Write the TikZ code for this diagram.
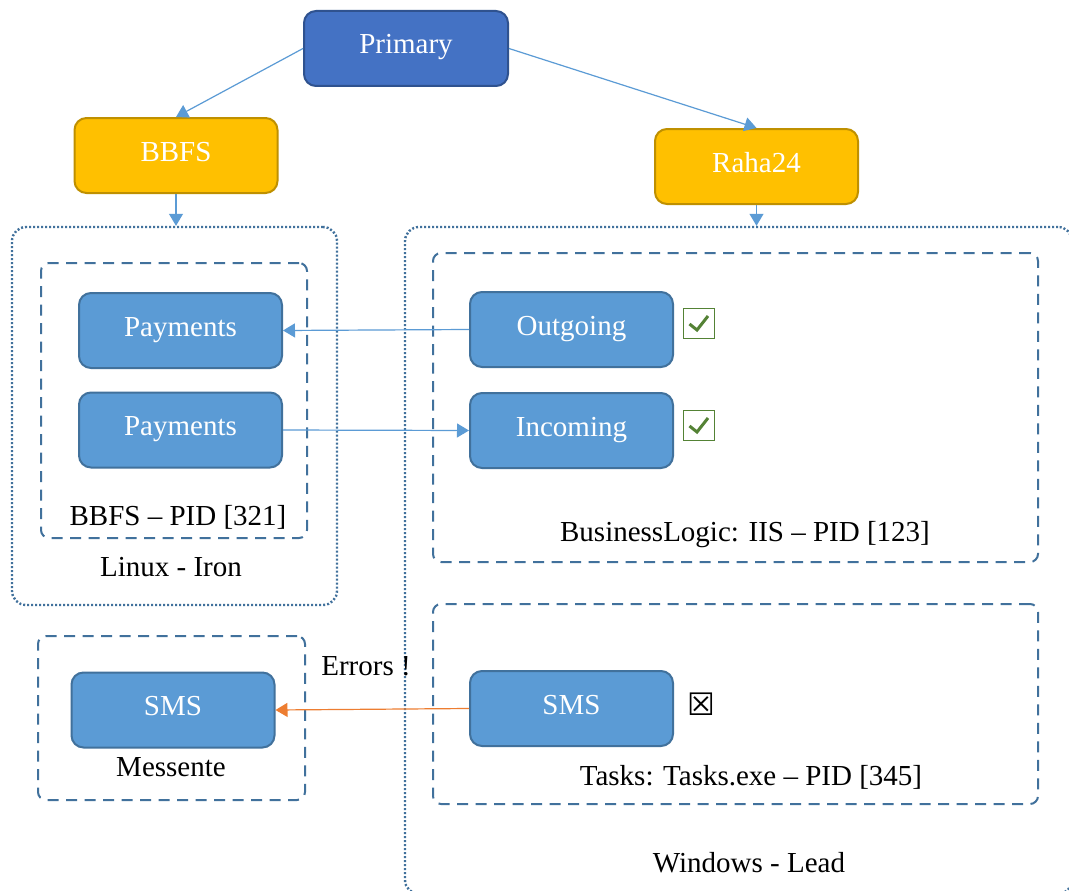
\documentclass[tikz,border=0pt]{standalone}
\usepackage{fontspec}
\setmainfont{Liberation Serif}
\newfontfamily\symfont{DejaVu Sans}
\usetikzlibrary{arrows.meta}

\definecolor{boxblue}{HTML}{5B9BD5}
\definecolor{boxedge}{HTML}{41719C}
\definecolor{primfill}{HTML}{4472C4}
\definecolor{primedge}{HTML}{2F528F}
\definecolor{gold}{HTML}{FFC000}
\definecolor{goldedge}{HTML}{BF9000}
\definecolor{linkblue}{HTML}{5B9BD5}
\definecolor{errorange}{HTML}{ED7D31}
\definecolor{okgreen}{HTML}{548235}

\begin{document}
\begin{tikzpicture}[x=1pt,y=-1pt,
  font=\fontsize{29}{34}\selectfont,
  svc/.style={draw=boxedge, fill=boxblue, line width=2pt, rounded corners=12pt,
    text=white, minimum width=203pt, minimum height=75pt, inner sep=0pt,
    text height=19pt, text depth=8pt},
  primbox/.style={svc, draw=primedge, fill=primfill, minimum width=204pt},
  hostbox/.style={svc, draw=goldedge, fill=gold, minimum width=203pt},
  procbox/.style={draw=boxedge, line width=2pt, dash pattern=on 11pt off 7.5pt,
    rounded corners=8pt, inner sep=0pt},
  machinebox/.style={draw=boxedge, line width=2.4pt, dash pattern=on 2pt off 2pt,
    rounded corners=14pt, inner sep=0pt},
  link/.style={draw=linkblue, line width=1.2pt, -{Triangle[length=12pt,width=14pt]}},
  errlink/.style={link, draw=errorange},
  chk/.style={draw=okgreen, line width=1.8pt, minimum width=31pt, minimum height=30pt,
    inner sep=0pt},
  tick/.style={draw=okgreen, line width=3pt},
  caption/.style={text=black, inner sep=0pt, anchor=base}
]
\useasboundingbox (0,0) rectangle (1069,891);
\fill[white] (0,0) rectangle (1069,891);
\clip (0,0) rectangle (1069,891);

% top level
\node[primbox] (primary) at (406,48.5) {Primary};
\node[hostbox] (bbfs) at (176,155.5) {BBFS};
\node[hostbox] (raha) at (756.5,166.5) {Raha24};

% machines
\node[machinebox, minimum width=325pt, minimum height=378pt] (linux) at (174.5,416) {};
\node[machinebox, minimum width=667pt, minimum height=667pt] (windows) at (738.5,560.5) {};

% processes
\node[procbox, minimum width=266pt, minimum height=275pt] (bbfsproc) at (174,400.5) {};
\node[procbox, minimum width=605pt, minimum height=309pt] (bizproc) at (735.5,407.5) {};
\node[procbox, minimum width=605pt, minimum height=200pt] (taskproc) at (735.5,704) {};
\node[procbox, minimum width=267pt, minimum height=164pt] (messproc) at (171.5,718) {};

% services
\node[svc] (pay1) at (180.5,330.5) {Payments};
\node[svc] (pay2) at (180.5,430) {Payments};
\node[svc] (outgoing) at (571.5,329.5) {Outgoing};
\node[svc] (incoming) at (571.5,430.5) {Incoming};
\node[svc] (smsright) at (571.5,708.5) {SMS};
\node[svc] (smsleft) at (173,710) {SMS};

% status marks
\node[chk] (okout) at (699,323.5) {};
\draw[tick] ([shift={(-9.5,0.5)}]okout.center) -- ([shift={(-2,6.5)}]okout.center)
  -- ([shift={(9,-7.5)}]okout.center);
\node[chk] (okin) at (699,425.5) {};
\draw[tick] ([shift={(-9.5,0.5)}]okin.center) -- ([shift={(-2,6.5)}]okin.center)
  -- ([shift={(9,-7.5)}]okin.center);
\node[text=black, inner sep=0pt, font=\symfont\fontsize{31}{31}\selectfont] (fail) at (701,704) {☒};

% captions
\node[caption] (bbfscap) at (178,525) {BBFS – PID [321]};
\node[caption] (linuxcap) at (171,576) {Linux - Iron};
\node[caption] (bizcap) at (745,541.5) {BusinessLogic: IIS – PID [123]};
\node[caption] (taskcap) at (751,785) {Tasks: Tasks.exe – PID [345]};
\node[caption] (wincap) at (749,872.5) {Windows - Lead};
\node[caption] (messcap) at (171,776) {Messente};
\node[caption] (errcap) at (366,675) {Errors !};

% connectors
\draw[link] (primary.west) -- (bbfs.north);
\draw[link] (primary.east) -- (raha.north);
\draw[link] (bbfs.south) -- (bbfs.south |- linux.north);
\draw[link] (raha.south) -- (raha.south |- windows.north);
\draw[link] (outgoing.west) -- (pay1.east);
\draw[link] (pay2.east) -- (incoming.west);
\draw[errlink] (smsright.west) -- (smsleft.east);
\end{tikzpicture}
\end{document}
